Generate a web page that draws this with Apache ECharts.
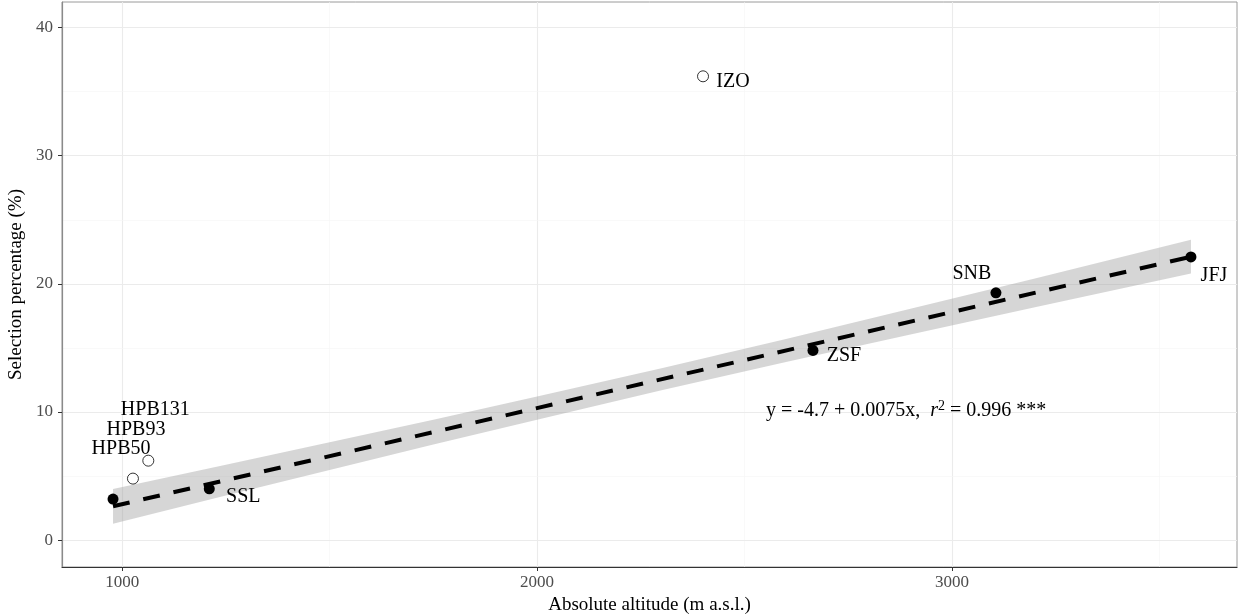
<!DOCTYPE html>
<html>
<head>
<meta charset="utf-8">
<script src="https://cdn.jsdelivr.net/npm/echarts@6/dist/echarts.min.js"></script>
<style>html,body{margin:0;padding:0;background:#fff;}#c{width:1241px;height:615px;}</style>
</head>
<body>
<div id="c"></div>
<script>
// ---- data ----
var siteNames   = ['HPB50', 'HPB93', 'HPB131', 'SSL', 'ZSF', 'SNB', 'JFJ', 'IZO'];
var altitudes   = [978, 1026, 1063, 1210, 2665, 3106, 3576, 2400];
var selectionPc = [3.2, 4.8, 6.2, 4.0, 14.8, 19.3, 22.1, 36.2];
var inFit       = [true, false, false, true, true, true, true, false];

var fitX = [978, 3576];
var fitY = [2.64, 22.12];

var bandX     = [978, 1250, 1500, 1750, 2000, 2300, 2600, 2900, 3200, 3576];
var bandLower = [1.28, 3.48, 5.47, 7.46, 9.40, 11.69, 13.90, 16.05, 18.18, 20.80];
var bandUpper = [3.99, 5.88, 7.63, 9.40, 11.20, 13.41, 15.70, 18.05, 20.42, 23.44];

var xTicks = [1000, 2000, 3000];
var xMinor = [1500, 2500, 3500];
var yTicks = [0, 10, 20, 30, 40];
var yMinor = [5, 15, 25, 35];

// ---- label placement (pixel offsets, styling only) ----
var labelOffsets = {
  HPB50: [8, -50], HPB93: [3, -49], HPB131: [7, -51], SSL: [34, 8],
  ZSF: [31, 5], SNB: [-24, -19], JFJ: [23, 19], IZO: [30, 5]
};

var FONT = '"Liberation Serif", "Times New Roman", serif';

function pts(filter) {
  var out = [];
  for (var i = 0; i < siteNames.length; i++) {
    if (inFit[i] === filter) {
      out.push({
        name: siteNames[i],
        value: [altitudes[i], selectionPc[i]],
        label: { offset: labelOffsets[siteNames[i]] }
      });
    }
  }
  return out;
}

var gridLines = [];
xTicks.forEach(function (v) { gridLines.push({ xAxis: v, lineStyle: { color: '#ebebeb', width: 1.1, type: 'solid' } }); });
xMinor.forEach(function (v) { gridLines.push({ xAxis: v, lineStyle: { color: '#f5f5f5', width: 0.6, type: 'solid' } }); });
yTicks.forEach(function (v) { gridLines.push({ yAxis: v, lineStyle: { color: '#ebebeb', width: 1.1, type: 'solid' } }); });
yMinor.forEach(function (v) { gridLines.push({ yAxis: v, lineStyle: { color: '#f5f5f5', width: 0.6, type: 'solid' } }); });

var labelStyle = {
  show: true,
  position: 'inside',
  formatter: '{b}',
  fontFamily: FONT,
  fontSize: 20,
  color: '#000'
};

var chart = echarts.init(document.getElementById('c'), null, { renderer: 'canvas' });
chart.setOption({
  animation: false,
  backgroundColor: '#fff',
  grid: { left: 62, right: 4, top: 2, bottom: 48, containLabel: false, outerBoundsMode: 'none',
          show: true, borderColor: '#9a9a9a', borderWidth: 1, backgroundColor: 'transparent' },
  xAxis: {
    type: 'value', min: 855, max: 3687,
    name: 'Absolute altitude (m a.s.l.)', nameLocation: 'middle', nameGap: 26,
    nameTextStyle: { fontFamily: FONT, fontSize: 19, color: '#000' },
    axisLine: { show: true, onZero: false, lineStyle: { color: '#333', width: 1.2 } },
    axisTick: { show: true, length: 4, customValues: xTicks, lineStyle: { color: '#333' } },
    axisLabel: { customValues: xTicks, formatter: function (v) { return String(v); }, fontFamily: FONT, fontSize: 17, color: '#4d4d4d', margin: 7 },
    splitLine: { show: false }
  },
  yAxis: {
    type: 'value', min: -2.1, max: 42.0,
    name: 'Selection percentage (%)', nameLocation: 'middle', nameGap: 35, nameRotate: 90,
    nameTextStyle: { fontFamily: FONT, fontSize: 19, color: '#000' },
    axisLine: { show: true, onZero: false, lineStyle: { color: '#8a8a8a', width: 1.2 } },
    axisTick: { show: true, length: 4, customValues: yTicks, lineStyle: { color: '#333' } },
    axisLabel: { customValues: yTicks, formatter: function (v) { return String(v); }, fontFamily: FONT, fontSize: 17, color: '#4d4d4d', margin: 9 },
    splitLine: { show: false }
  },
  series: [
    {
      type: 'line', data: [], silent: true, z: 0,
      markLine: { silent: true, z: 0, symbol: 'none', label: { show: false }, animation: false, data: gridLines }
    },
    {
      type: 'custom', z: 3, silent: true,
      data: [0],
      renderItem: function (params, api) {
        var points = [];
        for (var i = 0; i < bandX.length; i++) points.push(api.coord([bandX[i], bandUpper[i]]));
        for (var j = bandX.length - 1; j >= 0; j--) points.push(api.coord([bandX[j], bandLower[j]]));
        return { type: 'polygon', shape: { points: points }, style: { fill: 'rgba(153,153,153,0.4)' } };
      }
    },
    {
      type: 'line', z: 4, silent: true, symbol: 'none',
      data: [[fitX[0], fitY[0]], [fitX[1], fitY[1]]],
      lineStyle: { color: '#000', width: 4, type: [17, 14] }
    },
    {
      type: 'scatter', z: 5, symbol: 'circle', symbolSize: 11,
      data: pts(true),
      itemStyle: { color: '#000', borderColor: '#000', borderWidth: 0, opacity: 1 },
      label: labelStyle
    },
    {
      type: 'scatter', z: 5, symbol: 'circle', symbolSize: 11,
      data: pts(false),
      itemStyle: { color: '#fff', borderColor: '#000', borderWidth: 0.8, opacity: 1 },
      label: labelStyle
    }
  ],
  graphic: [
    {
      type: 'text', left: 766, top: 399, z: 10,
      style: {
        text: '{a|y = -4.7 + 0.0075x,  }{i|r}{s|2}{a| = 0.996 ***}',
        rich: {
          a: { fontFamily: FONT, fontSize: 20, color: '#000' },
          i: { fontFamily: FONT, fontSize: 20, fontStyle: 'italic', color: '#000' },
          s: { fontFamily: FONT, fontSize: 14, color: '#000', verticalAlign: 'top', padding: [0, 0, 10, 0] }
        }
      }
    }
  ]
});
</script>
</body>
</html>
